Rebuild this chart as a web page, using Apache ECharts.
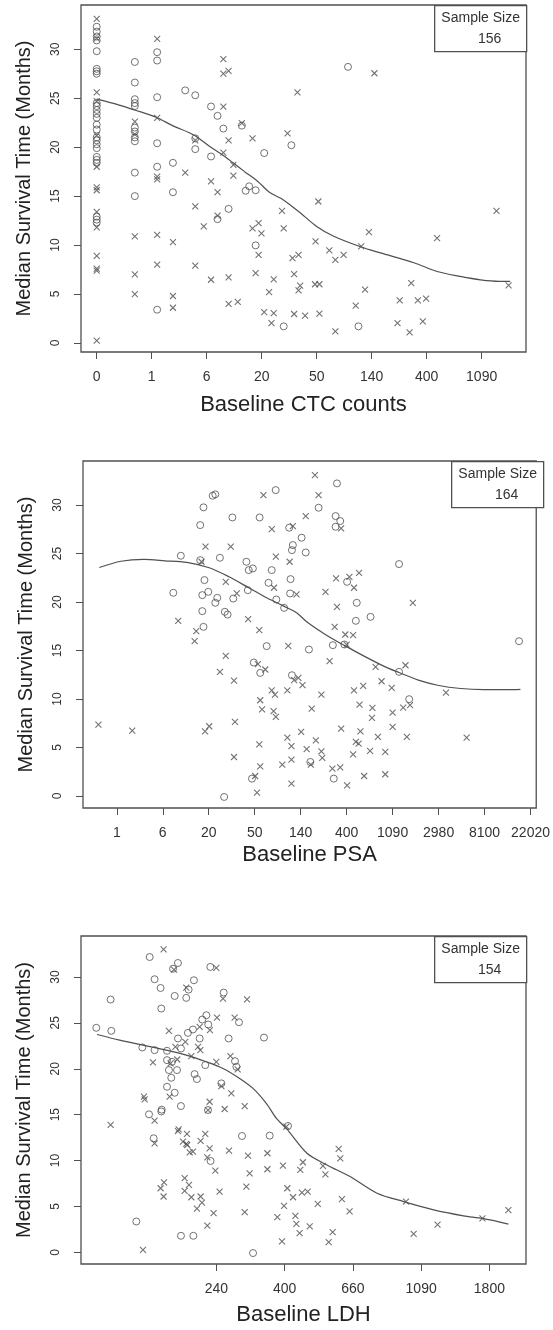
<!DOCTYPE html>
<html>
<head>
<meta charset="utf-8">
<script src="https://cdn.jsdelivr.net/npm/echarts@6/dist/echarts.min.js"></script>
<style>
  html, body { margin: 0; padding: 0; background: #fff; }
  #chart { width: 553px; height: 1330px; }
</style>
</head>
<body>
<div id="chart"></div>
<script>
// x values are on the log(baseline + 1) scale used by the axes, y = median survival (months)
const monthTicks = [0, 5, 10, 15, 20, 25, 30];

const ctcTicks = [0, 1, 2, 3, 4, 5, 6, 7];
const ctcLabels = ['0', '1', '6', '20', '50', '140', '400', '1090'];
const psaTicks = [1, 2, 3, 4, 5, 6, 7, 8, 9, 10];
const psaLabels = ['1', '6', '20', '50', '140', '400', '1090', '2980', '8100', '22020'];
const ldhTicks = [5.5, 6, 6.5, 7, 7.5];
const ldhLabels = ['240', '400', '660', '1090', '1800'];

const ctcO = [
  [0,32.3],[0,31.8],[0,31.3],[0,30.9],[0,29.8],[0,28.0],[0,27.75],[0,27.5],[0,24.5],[0,24.2],
  [0,23.8],[0,23.4],[0,23.0],[0,22.3],[0,21.8],[0,21.0],[0,20.7],[0,20.3],[0,19.9],[0,19.0],
  [0,18.7],[0,18.4],[0,12.9],[0,12.6],[0,12.3],
  [0.693,28.7],[0.693,26.6],[0.693,24.9],[0.693,24.5],[0.693,24.2],[0.693,22.0],[0.693,21.6],
  [0.693,21.0],[0.693,20.6],[0.693,17.4],[0.693,15.0],
  [1.099,29.7],[1.099,28.85],[1.099,25.1],[1.099,20.4],[1.099,18.0],[1.099,3.4],
  [1.386,18.4],[1.386,15.4],[1.609,25.8],[1.792,25.3],[1.792,20.9],[1.792,19.8],
  [2.079,19.05],[2.079,24.15],[2.197,23.2],[2.197,12.65],[2.303,21.9],[2.398,13.7],[2.639,22.2],
  [3.045,19.4],[2.708,15.55],[2.773,16.0],[2.890,15.6],[2.890,9.97],[3.40,1.7],[3.54,20.2],
  [4.57,28.2],[4.76,1.7]
];
const ctcX = [
  [0,33.1],[0,31.1],[0,25.6],[0,24.7],[0,21.2],[0,18.0],[0,15.9],[0,15.6],[0,13.4],[0,11.8],
  [0,8.9],[0,7.6],[0,7.4],[0,0.25],
  [0.693,22.6],[0.693,21.3],[0.693,10.9],[0.693,7.0],[0.693,5.0],
  [1.099,31.05],[1.099,23.0],[1.099,17.0],[1.099,16.7],[1.099,11.05],[1.099,8.0],
  [1.386,10.3],[1.386,4.8],[1.386,3.6],[1.609,17.4],[1.792,20.7],[1.792,13.95],[1.792,7.9],
  [1.946,11.9],[2.079,16.5],[2.197,15.4],[2.197,13.0],[2.079,6.46],[2.303,29.0],[2.303,27.5],
  [2.398,27.8],[2.303,24.15],[2.303,19.45],[2.398,20.7],[2.398,6.7],[2.398,4.0],[2.565,4.2],
  [2.485,18.2],[2.485,17.1],[2.639,22.45],[2.833,20.9],[2.833,11.7],[2.944,12.25],[2.996,11.2],
  [2.944,9.0],[2.890,7.14],[3.219,6.5],[3.135,5.2],[3.045,3.16],[3.219,3.06],[3.178,2.04],
  [3.37,13.5],[3.40,11.7],[3.47,21.4],[3.65,25.6],[5.05,27.55],[4.03,14.45],[3.98,10.37],
  [3.56,8.67],[3.67,9.01],[3.59,7.04],[3.70,5.85],[3.67,5.37],[3.97,6.0],[4.05,6.0],[3.59,2.96],
  [3.79,2.79],[4.05,2.99],[4.34,1.19],[4.23,9.46],[4.34,8.5],[4.49,9.0],[4.81,9.86],[4.95,11.33],
  [4.88,5.44],[4.71,3.81],[6.19,10.7],[5.72,6.12],[5.51,4.35],[5.84,4.35],[5.99,4.52],[5.47,2.04],
  [5.69,1.09],[5.93,2.21],[7.27,13.5],[7.49,5.88]
];
const ctcFit = [
  [0,24.9],[0.41,24.3],[0.69,23.8],[1.08,23.05],[1.38,22.2],[1.78,21.2],[2.05,20.1],[2.29,19.2],
  [2.48,18.4],[2.69,17.5],[2.93,16.5],[3.14,15.4],[3.34,14.8],[3.52,14.1],[3.70,13.3],[4.0,11.9],
  [4.31,10.9],[4.81,9.8],[5.16,9.2],[5.77,8.2],[6.19,7.3],[6.61,6.8],[6.98,6.45],[7.32,6.3],[7.52,6.3]
];

const psaO = [
  [4.457,31.54],[3.086,30.96],[3.143,31.1],[2.886,29.76],[3.514,28.72],[4.107,28.72],[2.815,27.93],
  [4.75,27.66],[4.83,25.87],[4.81,25.35],[2.393,24.77],[3.243,24.56],[2.815,24.32],[3.82,24.15],
  [3.87,23.29],[3.96,23.46],[4.37,23.29],[4.78,22.36],[2.907,22.26],[4.30,21.98],[3.85,21.22],
  [2.86,20.71],[2.99,21.05],[3.186,20.43],[3.143,19.92],[3.534,20.36],[2.229,20.95],[4.47,20.26],
  [4.64,19.40],[4.77,20.88],[2.86,19.06],[3.35,18.99],[3.41,18.71],[2.886,17.44],[4.26,15.45],
  [3.98,13.76],[4.12,12.69],[4.81,12.45],[3.94,1.79],[3.335,-0.10],
  [5.79,32.23],[5.39,29.72],[5.76,28.86],[5.86,28.35],[5.76,27.76],[5.02,26.63],[5.11,25.11],
  [7.14,23.91],[6.01,22.08],[6.22,19.92],[6.20,18.06],[6.52,18.47],[5.70,15.55],[5.95,15.62],
  [5.18,15.10],[7.14,12.80],[7.36,9.98],[5.21,3.51],[5.72,1.79],[9.75,15.96]
];
const psaX = [
  [4.19,31.03],[4.372,27.52],[4.83,27.83],[2.929,25.70],[3.479,25.70],[2.843,24.15],[4.46,24.67],
  [4.76,24.15],[3.37,22.08],[4.42,21.47],[3.61,20.88],[2.336,18.06],[3.857,18.23],[4.10,17.10],
  [2.728,16.99],[2.693,15.96],[4.73,15.48],[3.37,14.45],[4.07,13.59],[4.23,13.04],[3.243,12.80],
  [3.55,11.90],[4.37,10.90],[4.44,10.46],[4.71,10.90],[4.12,9.87],[4.16,8.94],[4.41,8.74],
  [4.46,8.15],[0.60,7.36],[1.336,6.74],[2.92,6.67],[3.01,7.19],[3.57,7.64],[4.10,5.33],[4.71,6.02],
  [4.80,5.13],[4.80,3.75],[4.60,3.23],[3.55,4.02],[4.12,3.06],[4.01,2.06],[4.05,0.34],[4.80,1.27],
  [5.31,33.09],[5.39,31.03],[5.11,28.86],[5.88,27.59],[5.77,22.43],[6.06,22.60],[6.27,23.01],
  [6.16,21.47],[5.54,21.05],[4.91,20.78],[7.44,19.92],[5.79,19.50],[5.74,17.44],[5.97,16.65],
  [6.14,16.58],[6.00,15.60],[5.63,13.90],[6.63,13.31],[7.28,13.48],[4.857,11.94],[4.95,12.18],
  [5.04,11.42],[5.45,10.46],[6.16,10.90],[6.36,11.35],[6.76,11.83],[6.98,11.15],[8.16,10.66],
  [7.38,9.36],[7.23,9.12],[6.28,9.43],[6.56,9.08],[6.55,8.05],[7.00,8.60],[5.24,9.01],[5.88,6.95],
  [6.30,6.67],[6.68,6.09],[7.00,7.12],[7.31,6.09],[8.61,6.02],[5.01,6.60],[5.33,5.74],[5.13,4.82],
  [5.45,4.61],[5.47,3.92],[5.22,3.23],[6.20,5.57],[6.26,5.40],[6.14,4.30],[6.51,4.64],[6.84,4.54],
  [5.69,2.82],[5.86,2.96],[6.01,1.10],[6.38,2.06],[6.84,2.24]
];
const psaFit = [
  [0.62,23.56],[1.09,24.2],[1.59,24.39],[2.05,24.25],[2.52,24.08],[3.01,23.53],[3.44,22.6],
  [3.87,21.47],[4.26,20.43],[4.62,19.6],[4.91,18.9],[5.13,17.96],[5.56,16.58],[5.98,15.45],
  [6.41,14.34],[6.84,13.31],[7.14,12.73],[7.56,11.94],[7.98,11.42],[8.48,11.08],[8.98,10.97],
  [9.52,10.97],[9.78,11.0]
];

const ldhO = [
  [5.012,32.17],[5.183,30.9],[5.219,31.52],[5.456,31.09],[5.048,29.75],[5.336,29.64],[5.092,28.8],
  [5.297,28.62],[5.195,27.93],[5.28,27.72],[5.554,28.3],[4.726,27.54],[5.097,26.56],[5.427,25.83],
  [5.397,25.36],[5.441,24.82],[5.666,25.07],[4.621,24.46],[4.731,24.13],[5.329,24.28],[5.292,23.91],
  [5.219,23.3],[5.378,23.3],[5.59,23.3],[5.849,23.4],[5.241,22.21],[4.958,22.32],[5.048,22.03],
  [5.139,21.96],[5.139,20.94],[5.175,20.76],[5.153,19.86],[5.212,19.86],[5.419,20.4],[5.637,20.83],
  [5.647,20.22],[5.17,19.02],[5.341,19.42],[5.358,18.88],[5.139,18.04],[5.195,17.39],[5.537,18.41],
  [5.241,15.94],[5.439,15.51],[5.1,15.55],[5.097,15.35],[5.007,15.04],[5.041,12.43],[5.458,9.96],
  [5.688,12.68],[5.891,12.72],[6.025,13.77],[4.914,3.37],[5.241,1.81],[5.332,1.81],[5.769,-0.07]
];
const ldhX = [
  [5.114,33.0],[5.19,30.8],[5.5,30.98],[5.28,28.84],[5.549,27.64],[5.725,27.57],[5.378,24.57],
  [5.453,24.2],[5.505,25.58],[5.634,25.58],[5.153,24.13],[5.273,22.93],[5.2,22.39],[5.366,22.39],
  [5.383,22.03],[5.317,21.38],[5.036,20.69],[5.165,20.58],[5.214,21.01],[5.5,20.76],[5.603,21.38],
  [5.656,19.93],[5.158,16.96],[5.537,18.12],[5.61,17.32],[4.97,16.96],[4.975,16.67],[5.451,16.41],
  [5.708,15.94],[5.439,15.5],[5.561,15.62],[5.048,14.35],[4.726,13.88],[5.224,13.41],[5.219,13.22],
  [5.285,12.9],[5.256,12.07],[5.28,11.81],[5.287,11.7],[5.419,12.9],[5.385,12.14],[5.048,11.88],
  [5.305,10.9],[5.329,10.98],[5.451,11.34],[5.434,10.36],[5.593,11.09],[5.732,10.54],[5.874,10.8],
  [5.493,8.91],[5.744,8.62],[5.874,9.06],[5.988,9.46],[6.013,13.7],[5.268,8.08],[5.3,7.36],
  [5.117,7.64],[5.092,6.99],[5.114,6.09],[5.268,6.7],[5.317,6.01],[5.385,6.09],[5.395,5.43],
  [5.358,4.78],[5.524,6.63],[5.72,7.17],[6.02,6.99],[5.48,4.28],[5.708,4.38],[5.996,5.07],
  [5.947,3.84],[5.434,2.93],[5.981,1.2],[4.963,0.29],
  [6.062,6.01],[6.079,3.99],[6.086,3.12],[6.11,2.1],[6.115,8.99],[6.134,9.82],[6.127,6.52],
  [6.169,6.63],[6.184,2.83],[6.243,5.29],[6.281,9.42],[6.299,8.51],[6.396,11.27],[6.408,10.25],
  [6.42,5.8],[6.476,4.46],[6.352,2.21],[6.323,1.12],[6.889,5.54],[6.945,2.03],[7.12,3.04],
  [7.449,3.7],[7.639,4.6]
];
const ldhFit = [
  [4.626,23.73],[4.792,23.12],[4.963,22.57],[5.134,22.03],[5.28,21.49],[5.427,20.76],[5.549,20.04],
  [5.671,18.95],[5.769,17.86],[5.866,16.23],[5.94,14.6],[6.013,13.5],[6.164,10.8],[6.31,9.53],
  [6.48,8.26],[6.677,6.45],[6.872,5.54],[7.092,4.64],[7.31,3.99],[7.449,3.7],[7.639,3.09]
];

const panels = [
  { o: ctcO, x: ctcX, fit: ctcFit, ticks: ctcTicks, labels: ctcLabels, title: 'Baseline CTC counts', n: 156,
    grid: { left: 81, top: 5, width: 445, height: 347 }, xMin: -0.286, xMax: 7.807, yMin: -0.92, yMax: 34.52, nameGap: 42 },
  { o: psaO, x: psaX, fit: psaFit, ticks: psaTicks, labels: psaLabels, title: 'Baseline PSA', n: 164,
    grid: { left: 83, top: 461, width: 460, height: 347 }, xMin: 0.265, xMax: 10.124, yMin: -1.24, yMax: 34.54, nameGap: 36 },
  { o: ldhO, x: ldhX, fit: ldhFit, ticks: ldhTicks, labels: ldhLabels, title: 'Baseline LDH', n: 154,
    grid: { left: 81, top: 936, width: 445, height: 328 }, xMin: 4.509, xMax: 7.768, yMin: -1.26, yMax: 34.46, nameGap: 40 }
];

const ink = '#505050';
const font = 'Liberation Sans, Arial, sans-serif';
const cross = 'path://M0 0L10 10M10 0L0 10';

const option = {
  animation: false,
  backgroundColor: '#fff',
  grid: [], xAxis: [], yAxis: [], series: [], graphic: []
};

panels.forEach((p, i) => {
  option.grid.push(Object.assign({ show: true, borderColor: ink, borderWidth: 1.3, backgroundColor: 'transparent' }, p.grid));
  option.xAxis.push({
    type: 'value', gridIndex: i, min: p.xMin, max: p.xMax,
    name: p.title, nameLocation: 'middle', nameGap: p.nameGap,
    nameTextStyle: { fontSize: 22, color: '#222', fontFamily: font },
    axisLine: { show: false, onZero: false }, splitLine: { show: false },
    axisTick: { show: true, length: 7, customValues: p.ticks, lineStyle: { color: ink, width: 1 } },
    axisLabel: {
      customValues: p.ticks, margin: 18, fontSize: 14, color: '#333', fontFamily: font,
      formatter: v => p.labels[p.ticks.indexOf(v)]
    }
  });
  option.yAxis.push({
    type: 'value', gridIndex: i, min: p.yMin, max: p.yMax,
    name: 'Median Survival Time (Months)', nameLocation: 'middle', nameGap: 47, nameRotate: 90,
    nameTextStyle: { fontSize: 20, color: '#222', fontFamily: font },
    axisLine: { show: false, onZero: false }, splitLine: { show: false },
    axisTick: { show: true, length: 7, customValues: monthTicks, lineStyle: { color: ink, width: 1 } },
    axisLabel: { customValues: monthTicks, rotate: 90, margin: 19, fontSize: 12, color: '#333', fontFamily: font }
  });
  option.series.push(
    { type: 'scatter', xAxisIndex: i, yAxisIndex: i, data: p.o, symbol: 'circle', symbolSize: 7,
      itemStyle: { color: 'rgba(0,0,0,0)', borderColor: ink, borderWidth: 1 } },
    { type: 'scatter', xAxisIndex: i, yAxisIndex: i, data: p.x, symbol: cross, symbolSize: 6,
      itemStyle: { color: 'rgba(0,0,0,0)', borderColor: ink, borderWidth: 1.1 } },
    { type: 'line', xAxisIndex: i, yAxisIndex: i, data: p.fit, smooth: 0.3, showSymbol: false,
      lineStyle: { color: ink, width: 1.2 } }
  );
  const right = p.grid.left + p.grid.width;
  const w = 92, h = 46;
  option.graphic.push({
    type: 'group', left: right - w, top: p.grid.top,
    children: [
      { type: 'rect', shape: { x: 0, y: 0, width: w, height: h }, style: { fill: '#fff', stroke: ink, lineWidth: 1.3 } },
      { type: 'text', x: w / 2, y: 12, style: { text: 'Sample Size', fontSize: 14, fill: '#333', font: '14px ' + font, align: 'center', verticalAlign: 'middle' } },
      { type: 'text', x: w / 2 + 9, y: 33, style: { text: String(p.n), fontSize: 14, fill: '#333', font: '14px ' + font, align: 'center', verticalAlign: 'middle' } }
    ]
  });
});

const chart = echarts.init(document.getElementById('chart'), null, { renderer: 'canvas' });
chart.setOption(option);
</script>
</body>
</html>
